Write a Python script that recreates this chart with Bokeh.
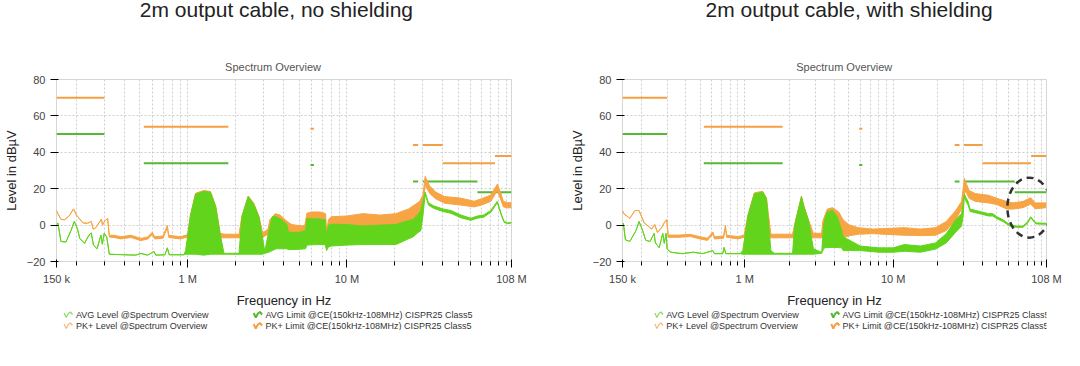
import numpy as np
from bokeh.plotting import figure
from bokeh.layouts import row, column
from bokeh.models import Range1d, FixedTicker, ColumnDataSource
from bokeh.core.properties import value
from bokeh.embed import file_html
from bokeh.resources import INLINE

MHZ = 1e6

TITLES = ["2m output cable, no shielding", "2m output cable, with shielding"]
SUBTITLE = "Spectrum Overview"
Y_LABEL = "Level in dB\u00b5V"
X_LABEL = "Frequency in Hz"
X_TICKS = [0.15, 1.0, 10.0, 108.0]
X_TICK_LABELS = ["150 k", "1 M", "10 M", "108 M"]
X_END = 108.0
X_MINOR = [0.2, 0.3, 0.4, 0.5, 0.6, 0.7, 0.8, 0.9,
           2, 3, 4, 5, 6, 7, 8, 9, 20, 30, 40, 50, 60, 70, 80, 90, 100]
Y_TICKS = [-20, 0, 20, 40, 60, 80]
LEGEND_LABELS = ["AVG Level @Spectrum Overview", "PK+ Level @Spectrum Overview",
                 "AVG Limit @CE(150kHz-108MHz) CISPR25 Class5",
                 "PK+ Limit @CE(150kHz-108MHz) CISPR25 Class5"]

LIM_PK_F0 = [0.15, 0.53, 5.9, 26, 30, 40, 85]
LIM_PK_F1 = [0.30, 1.8, 6.2, 28, 40, 85, 108]
LIM_PK = [70, 54, 53, 44, 44, 34, 38]
LIM_AVG_F0 = [0.15, 0.53, 5.9, 26, 30, 66]
LIM_AVG_F1 = [0.30, 1.8, 6.2, 28, 66, 108]
LIM_AVG = [50, 34, 33, 24, 24, 18]

NS_AVG_F = [0.150, 0.153, 0.160, 0.172, 0.185, 0.194, 0.203, 0.210, 0.225, 0.240,
            0.248, 0.256, 0.270, 0.285, 0.291, 0.299, 0.310, 0.322, 0.400, 0.470,
            0.509, 0.560, 0.615, 0.630, 0.720, 0.745, 0.765, 0.947,
            0.970, 1.04, 1.12, 1.26, 1.39, 1.50, 1.60, 1.69, 1.80, 2.10,
            2.19, 2.40, 2.60, 2.80, 2.95, 3.05,
            3.20, 3.40, 3.60, 3.90, 4.20, 4.30, 5.00, 5.50,
            5.60, 6.50, 7.30, 7.45, 7.65,
            8.0, 10.0, 12.6, 16.2, 20.3, 24.4, 26.0, 28.0, 29.1, 30.0, 31.0,
            32.5, 35, 40, 45, 52, 60, 66, 72, 80, 88, 93, 97, 102, 108]
NS_AVG_HI = [0.3, 1.2, -9.0, -9.3, -3.0, 2.0, -2.0, -7.3, -10.0, -5.5,
             -4.3, -11.0, -13.0, -5.5, -10.5, -4.5, -6.5, -16.0, -16.3, -16.5,
             -15.6, -16.5, -14.5, -16.5, -16.3, -12.5, -16.3, -16.3,
             -14, 5, 17, 18.5, 18, 10, -5, -15.5, -15.5, -15.5,
             4.6, 15.7, 11.4, 4.6, -7, -14.5,
             -5, 4.6, 4.6, 2.9, 0.3, -4, -4, -3,
             3.5, 3.5, 3, -6, 0,
             0.5, 0.3, -0.5, 0, 0.3, 2.5, 3, 6, 8, 13, 18.2,
             12.3, 10.6, 8.9, 8.0, 5.5, 3.8, 5.0, 5.5, 8.0, 13.1, 6.3, 2.1, 1.2, 1.5]
NS_AVG_LO = [0.3, 1.2, -9.0, -9.3, -3.0, 2.0, -2.0, -7.3, -10.0, -5.5,
             -4.3, -11.0, -13.0, -5.5, -10.5, -4.5, -6.5, -16.0, -16.3, -16.5,
             -15.6, -16.5, -14.5, -16.5, -16.3, -12.5, -16.3, -16.3,
             -16, -16, -16, -16.5, -16, -16, -16, -16, -16, -16,
             -16, -16, -16, -16, -16, -15.5,
             -15, -14, -13, -13, -13, -13.5, -13.3, -13,
             -11, -10.7, -10.7, -14, -12,
             -11.5, -11, -10.7, -10.7, -10.7, -7.5, -6.5, -4, -3.1, 5, 17,
             11, 9.2, 7.5, 6.5, 4.0, 2.6, 3.8, 4.3, 7.0, 12.3, 5.6, 1.5, 0.8, 1.2]

NS_PK_F = [0.150, 0.153, 0.160, 0.168, 0.180, 0.192, 0.200, 0.220, 0.235, 0.248,
           0.255, 0.265, 0.287, 0.292, 0.300, 0.314, 0.322, 0.345, 0.380, 0.439,
           0.509, 0.560, 0.600, 0.620, 0.700, 0.745, 0.760, 0.900, 0.970,
           1.00, 1.04, 1.12, 1.26, 1.39, 1.50, 1.60, 1.69, 1.80, 2.10,
           2.19, 2.40, 2.60, 2.80, 2.95, 3.05, 3.20,
           3.28, 3.55, 3.80, 4.20, 4.50, 5.20, 5.45,
           5.6, 6.0, 6.8, 7.35, 7.45, 7.65,
           8.0, 10, 12.6, 16.2, 20.3, 24.4, 28.7, 30.0, 31.0,
           33, 36, 41, 52, 63, 70, 80, 88, 92, 96, 102, 108]
NS_PK_HI = [8, 6.3, 3.2, 2.9, 5, 8.9, 5.5, 1.2, 1.0, 2.0,
            -2.2, -1.4, 3.2, 0, 2, 3.7, -5.6, -5.6, -6.4, -5.6,
            -7.3, -6.5, -3.9, -6.4, -6.0, -0.2, -5.6, -6.4, -5.6,
            -5, 5.5, 17.5, 19, 18.5, 10.5, -4.5, -5, -5, -5,
            5, 16, 12, 5, -4, -3.5, -2,
            2.9, 6.3, 5.5, 2.1, 0.3, -0.5, 0,
            6.5, 7.2, 7.2, 6.3, -4.6, 3,
            4.6, 5, 6.3, 5.5, 6.3, 8.9, 13.1, 16.5, 26.8,
            21.6, 18.2, 15.7, 14.8, 13.1, 14.5, 16.5, 22.5, 18.2, 13.1, 12.3, 12.3]
NS_PK_LO = [8, 6.3, 3.2, 2.9, 5, 8.9, 5.5, 1.2, 1.0, 2.0,
            -2.2, -1.4, 3.2, 0, 2, 3.7, -6.6, -6.8, -7.6, -6.8,
            -8.5, -7.7, -5.1, -7.6, -7.2, -1.4, -6.8, -7.6, -6.8,
            -7, -7, -7, -7, -7, -7, -7, -7, -7, -7,
            -7, -7, -7, -7, -7, -6, -5,
            -5, -5, -5, -5, -5, -5, -5,
            -3, -3, -3, -3, -8, -5,
            -3, -2, -2, -2, -1, 1, 5, 10, 22,
            17.5, 14.5, 12, 11, 10, 11, 13, 19, 14.5, 10, 9.5, 9.5]

WS_AVG_F = [0.150, 0.152, 0.157, 0.168, 0.185, 0.194, 0.205, 0.215, 0.230, 0.245,
            0.250, 0.265, 0.280, 0.287, 0.295, 0.300, 0.317, 0.380, 0.450, 0.520,
            0.610, 0.625, 0.710, 0.726, 0.745, 0.930,
            0.97, 1.05, 1.16, 1.32, 1.40, 1.50, 1.58, 2.10,
            2.17, 2.41, 2.50, 2.70, 2.90, 3.30,
            3.40, 3.50, 3.60, 3.90, 4.20, 4.50, 4.60, 6.0, 8.0, 10.0,
            11.9, 15.3, 19.3, 22.8, 26.4, 28.9, 29.6, 30.2,
            31, 32, 33, 35.8, 39.5, 43.9, 47, 50, 55, 61, 67.7, 75, 81, 84.4, 88, 92, 108]
WS_AVG_HI = [0.3, 1.0, -8.1, -9, -3, 2.0, -3, -8.3, -9, -4.6,
             -9.8, -12.4, -4.6, -10, -4.6, -13.2, -14.9, -15.7, -14.9, -15.7,
             -14, -15.7, -15.7, -12.3, -15.7, -15.7,
             -14, 5, 17.2, 18.1, 14.7, -14, -15.5, -15.5,
             0, 15.6, 10.3, 1.9, -13, -15,
             0, 4.6, 7.2, 8.1, 4.6, -3, -6.4, -11.5, -12.5, -12.5,
             -10.7, -11.5, -9.8, -4.7, 2.9, 6.3, 12, 17.2,
             15, 13, 8.8, 8.1, 7.2, 6.3, 6.3, 4.6, 2.9, 0.3, -0.5, -0.5, 2, 4.6, 2.9, 1.2, 1.0]
WS_AVG_LO = [0.3, 1.0, -8.1, -9, -3, 2.0, -3, -8.3, -9, -4.6,
             -9.8, -12.4, -4.6, -10, -4.6, -13.2, -14.9, -15.7, -14.9, -15.7,
             -14, -15.7, -15.7, -12.3, -15.7, -15.7,
             -16, -16, -16, -16, -16, -16, -16, -16,
             -16, -16, -16, -16, -16, -15.5,
             -13, -12.3, -12.3, -12.3, -12.3, -12.5, -14, -14, -14.9, -14.9,
             -14.4, -14.9, -13.2, -9.8, -3.9, -0.5, 5, 16,
             13, 11, 7.5, 6.8, 6.0, 5.0, 5.0, 3.5, 2.0, -0.5, -1.2, -1.2, 1.3, 4.0, 2.3, 0.6, 0.5]

WS_PK_F = [0.150, 0.153, 0.168, 0.182, 0.194, 0.210, 0.236, 0.247, 0.258, 0.275,
           0.290, 0.298, 0.305, 0.360, 0.430, 0.500, 0.560, 0.610, 0.625, 0.720,
           0.740, 0.755, 0.900, 0.990,
           1.05, 1.16, 1.32, 1.40, 1.50, 1.58, 2.10,
           2.17, 2.41, 2.50, 2.70, 2.90, 3.30,
           3.35, 3.60, 3.90, 4.30, 4.60, 5.0, 5.8, 7.3, 11.9, 15.3,
           19.3, 22.8, 26.4, 28.9, 29.6, 30.2,
           31, 32.5, 35.8, 43.9, 50, 58.3, 64.3, 75, 84.4, 90.7, 108]
WS_PK_HI = [8, 6.3, 3.7, 8, 8, 1.2, -2.2, 0.3, -4, -1.4,
            2, 2.9, -5.5, -5.5, -5.1, -6.4, -7.2, -3.8, -6.4, -6,
            -0.2, -5.5, -6.4, -5.5,
            5.5, 17.7, 18.6, 15, -5, -5, -5,
            0.5, 16, 10.8, 2.4, -4.5, -4.5,
            2, 8.8, 9.6, 7.2, 2.9, 0.3, -1.4, -2.2, -1.4, -2.2,
            -1.4, 2, 8, 13, 19.8, 25.7,
            23.2, 19, 17.3, 16.4, 14.7, 13, 12.2, 13, 15, 12.2, 12.2]
WS_PK_LO = [8, 6.3, 3.7, 8, 8, 1.2, -2.2, 0.3, -4, -1.4,
            2, 2.9, -6.7, -6.7, -6.3, -7.6, -8.4, -5.0, -7.6, -7.2,
            -1.4, -6.7, -7.6, -6.7,
            -7, -7, -7, -7, -7, -7, -7,
            -7, -7, -7, -7, -7, -7,
            -7, -7, -7, -7, -7, -6, -5, -4.7, -5.6, -5.8,
            -5.6, -3, 2.9, 8.8, 12, 18,
            18.1, 14.7, 13, 12.2, 11.3, 8.8, 8.8, 9.6, 11.5, 9, 9.6]

MARK_F = [82.8]
MARK_V = [9.6]

# ---------------- styling / layout ----------------
C_AVG = "#62d41c"
C_PK = "#f7a444"
C_AVG_LEG = "#8edb66"
C_PK_LEG = "#f8b77a"
C_LIM_AVG = "#55b934"
C_LIM_PK = "#f59f45"
GRID = "#cfcfcf"
HEAD_H = 74
PLOT_H = 236
LEG_H = 20


def bare(width, height):
    p = figure(width=width, height=height, x_range=Range1d(0, width),
               y_range=Range1d(0, height), x_axis_type=None, y_axis_type=None,
               toolbar_location=None, output_backend="svg", min_border=0)
    p.outline_line_color = None
    return p


def header(width, title, title_x, sub_x):
    h = bare(width, HEAD_H)
    h.text(x=[title_x], y=[HEAD_H - 9], text=[title], text_font_size=value("21px"),
           text_align="center", text_baseline="middle", text_color="#222222")
    h.text(x=[sub_x], y=[8], text=[SUBTITLE], text_font_size=value("11px"),
           text_align="center", text_baseline="middle", text_color="#555555")
    return h


def legend_fig(width, x_col1, x_col2):
    lg = bare(width, LEG_H)
    xs_icon = [x_col1, x_col1, x_col2, x_col2]
    ys_row = [LEG_H - 4.5, 4.5, LEG_H - 4.5, 4.5]
    colors = [C_AVG_LEG, C_PK_LEG, C_LIM_AVG, C_LIM_PK]
    widths = [1.2, 1.2, 2, 2]
    wave_dx = [0, 2.5, 5, 7.5, 10]
    wave_dy = [2, -2.5, 1.5, 3, 0.5]
    for x0, y0, c, w in zip(xs_icon, ys_row, colors, widths):
        lg.line([x0 + d for d in wave_dx], [y0 + d for d in wave_dy],
                line_color=c, line_width=w)
    lg.text(x=[x + 14 for x in xs_icon], y=ys_row, text=LEGEND_LABELS,
            text_font_size=value("9px"), text_align="left", text_baseline="middle",
            text_color="#333333")
    return lg


def trace(p, f, lo, hi, color):
    src = ColumnDataSource(dict(f=np.array(f) * MHZ, lo=lo, hi=hi))
    p.varea(x="f", y1="lo", y2="hi", source=src, fill_color=color)
    p.line("f", "lo", source=src, line_color=color, line_width=1)
    return p.line("f", "hi", source=src, line_color=color, line_width=1)


def panel(avg, pk, width, left, right, mark=False):
    p = figure(width=width, height=PLOT_H, x_axis_type="log",
               x_range=Range1d(0.15 * MHZ, X_END * MHZ), y_range=Range1d(-20, 80),
               toolbar_location=None, output_backend="svg",
               min_border_left=left, min_border_right=right)
    p.outline_line_color = "#d6d6d6"

    lsrc_pk = ColumnDataSource(dict(f0=np.array(LIM_PK_F0) * MHZ,
                                    f1=np.array(LIM_PK_F1) * MHZ, v=LIM_PK))
    lsrc_avg = ColumnDataSource(dict(f0=np.array(LIM_AVG_F0) * MHZ,
                                     f1=np.array(LIM_AVG_F1) * MHZ, v=LIM_AVG))
    p.segment(x0="f0", y0="v", x1="f1", y1="v", source=lsrc_pk,
              line_color=C_LIM_PK, line_width=2)
    p.segment(x0="f0", y0="v", x1="f1", y1="v", source=lsrc_avg,
              line_color=C_LIM_AVG, line_width=2)
    trace(p, pk[0], pk[1], pk[2], C_PK)
    trace(p, avg[0], avg[1], avg[2], C_AVG)

    xa = p.xaxis[0]
    xa.ticker = FixedTicker(ticks=[t * MHZ for t in X_TICKS],
                            minor_ticks=[m * MHZ for m in X_MINOR])
    xa.major_label_overrides = {t * MHZ: lab for t, lab in zip(X_TICKS, X_TICK_LABELS)}
    p.yaxis[0].ticker = FixedTicker(ticks=Y_TICKS, minor_ticks=[])
    xa.axis_label = X_LABEL
    p.yaxis[0].axis_label = Y_LABEL
    for ax in (xa, p.yaxis[0]):
        ax.axis_line_color = None
        ax.axis_label_text_font_style = "normal"
        ax.axis_label_text_color = "#222222"

    for g in (p.xgrid[0], p.ygrid[0]):
        g.grid_line_color = GRID
        g.grid_line_dash = "2 2"
    p.xgrid[0].minor_grid_line_color = GRID
    p.xgrid[0].minor_grid_line_dash = "2 2"

    if mark:
        p.ellipse(x=[f * MHZ for f in MARK_F], y=MARK_V, width=44, height=60,
                  width_units="screen", height_units="screen", fill_color=None,
                  line_color="#333333", line_width=2.5, line_dash="7 5")
    return p


p1 = panel((NS_AVG_F, NS_AVG_LO, NS_AVG_HI), (NS_PK_F, NS_PK_LO, NS_PK_HI), 540, 54, 29)
p2 = panel((WS_AVG_F, WS_AVG_LO, WS_AVG_HI), (WS_PK_F, WS_PK_LO, WS_PK_HI), 524, 82, 18,
           mark=True)
h1 = header(540, TITLES[0], 261, 257)
h2 = header(524, TITLES[1], 280, 274)
l1 = legend_fig(540, 9, 234)
l2 = legend_fig(524, 40, 258)

layout = row(column(h1, p1, l1), column(h2, p2, l2))
open("out.html", "w").write(file_html(layout, INLINE))
